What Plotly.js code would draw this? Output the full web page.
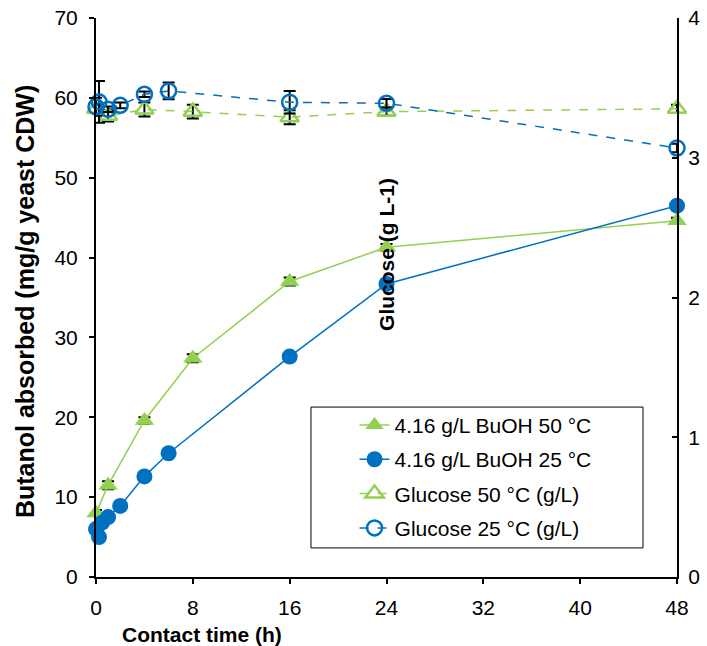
<!DOCTYPE html>
<html>
<head>
<meta charset="utf-8">
<script src="https://cdn.plot.ly/plotly-3.0.1.min.js"></script>
<style>html,body{margin:0;padding:0;background:#fff;}#chart{width:707px;height:646px;}</style>
</head>
<body>
<div id="chart"></div>
<script>
// ---- data ----
const timeBuOH50 = [0, 1, 4, 8, 16, 24, 48];
const buoh50 = [8.0, 11.5, 19.6, 27.4, 37.0, 41.3, 44.6];
const buoh50Err = [0.4, 0.5, 0.4, 0.5, 0.5, 0.4, 0.4];

const timeBuOH25 = [0, 0.25, 0.5, 1, 2, 4, 6, 16, 24, 48];
const buoh25 = [6.0, 5.0, 6.8, 7.5, 8.9, 12.6, 15.5, 27.6, 36.7, 46.5];
const buoh25Err = [0.3, 0.3, 0.3, 0.3, 0.3, 0.3, 0.4, 0.3, 0.3, 0.3];

const timeGlu50 = [0, 1, 4, 8, 16, 24, 48];
const glu50 = [3.35, 3.30, 3.345, 3.33, 3.29, 3.33, 3.35];
const glu50Err = [0.03, 0.04, 0.05, 0.05, 0.05, 0.03, 0.03];

const timeGlu25 = [0, 0.25, 1, 2, 4, 6, 16, 24, 48];
const glu25 = [3.365, 3.40, 3.347, 3.375, 3.454, 3.478, 3.397, 3.39, 3.07];
const glu25Err = [0.065, 0.15, 0.02, 0.02, 0.02, 0.06, 0.08, 0.03, 0.03];

const xTicks = [0, 8, 16, 24, 32, 40, 48];
const seriesNames = ['4.16 g/L BuOH 50 °C', '4.16 g/L BuOH 25 °C', 'Glucose 50 °C (g/L)', 'Glucose 25 °C (g/L)'];
const xTitle = 'Contact time (h)';
const yTitle = 'Butanol absorbed (mg/g yeast CDW)';
const y2Title = 'Glucose (g L-1)';

const GREEN = '#92D050';
const BLUE = '#0070C0';
const FONT = 'Liberation Sans, Arial, sans-serif';

function eb(arr){ return {type:'data', array:arr, visible:true, color:'#000', thickness:2, width:6}; }

const traces = [
  {x: timeBuOH50, y: buoh50, name: seriesNames[0], type:'scatter', mode:'lines+markers',
   line:{color:GREEN, width:1.5}, marker:{symbol:'triangle-up', size:17, color:GREEN},
   error_y: eb(buoh50Err), cliponaxis:false, legendgroup:'a'},
  {x: timeBuOH25, y: buoh25, name: seriesNames[1], type:'scatter', mode:'lines+markers',
   line:{color:BLUE, width:1.5}, marker:{symbol:'circle', size:16, color:BLUE},
   error_y: eb(buoh25Err), cliponaxis:false, legendgroup:'b'},
  {x: timeGlu50, y: glu50, name: seriesNames[2], type:'scatter', mode:'lines+markers', yaxis:'y2',
   line:{color:GREEN, width:1.5, dash:'dash'}, marker:{symbol:'triangle-up-open', size:16, color:GREEN, line:{width:2.5, color:GREEN}},
   error_y: eb(glu50Err), cliponaxis:false, legendgroup:'c'},
  {x: timeGlu25, y: glu25, name: seriesNames[3], type:'scatter', mode:'lines+markers', yaxis:'y2',
   line:{color:BLUE, width:1.5, dash:'dash'}, marker:{symbol:'circle-open', size:15, color:BLUE, line:{width:2.5, color:BLUE}},
   error_y: eb(glu25Err), cliponaxis:false, legendgroup:'d'}
];

const layout = {
  width:707, height:646,
  margin:{l:96, r:30, t:18, b:69},
  paper_bgcolor:'#fff', plot_bgcolor:'#fff',
  font:{family:FONT, size:21, color:'#000'},
  showlegend:true,
  legend:{x:0.445, y:0.308, xanchor:'left', yanchor:'top', bgcolor:'rgba(0,0,0,0)', borderwidth:0,
          font:{size:21}, tracegroupgap:4, traceorder:'grouped'},
  xaxis:{range:[0,48], tickvals:xTicks, ticktext:xTicks.map(String), showgrid:false, zeroline:false,
         showline:true, linecolor:'#000', linewidth:2, ticks:'outside', ticklen:5, tickwidth:2, tickcolor:'#000',
         ticklabelstandoff:6, tickfont:{size:21}},
  yaxis:{range:[0,70], dtick:10, showgrid:false, zeroline:false,
         showline:true, linecolor:'#000', linewidth:2, ticks:'outside', ticklen:5, tickwidth:2, tickcolor:'#000',
         ticklabelstandoff:7, tickfont:{size:21}},
  yaxis2:{range:[0,4], dtick:1, overlaying:'y', side:'right', showgrid:false, zeroline:false,
         showline:true, linecolor:'#000', linewidth:2, ticks:'inside', ticklen:5, tickwidth:2, tickcolor:'#000',
         ticklabelstandoff:5, tickfont:{size:21}},
  shapes:[{type:'rect', xref:'paper', yref:'paper', x0:0.37, x1:0.9415, y0:0.052, y1:0.304,
           line:{color:'#000', width:1}, fillcolor:'rgba(0,0,0,0)', layer:'below'}],
  annotations:[
    {text:'<b>'+y2Title+'</b>', xref:'x', yref:'paper', x:24, y:0.577, textangle:-90,
     showarrow:false, font:{size:21}, xanchor:'center', yanchor:'middle'},
    {text:'<b>'+xTitle+'</b>', xref:'paper', yref:'paper', x:0.1825, y:-0.102,
     showarrow:false, font:{size:21}, xanchor:'center', yanchor:'middle'},
    {text:'<b>'+yTitle+'</b>', xref:'paper', yref:'paper', x:-0.122, y:0.492, textangle:-90,
     showarrow:false, font:{size:25}, xanchor:'center', yanchor:'middle'}
  ]
};

Plotly.newPlot('chart', traces, layout, {displayModeBar:false, staticPlot:true});
</script>
</body>
</html>
